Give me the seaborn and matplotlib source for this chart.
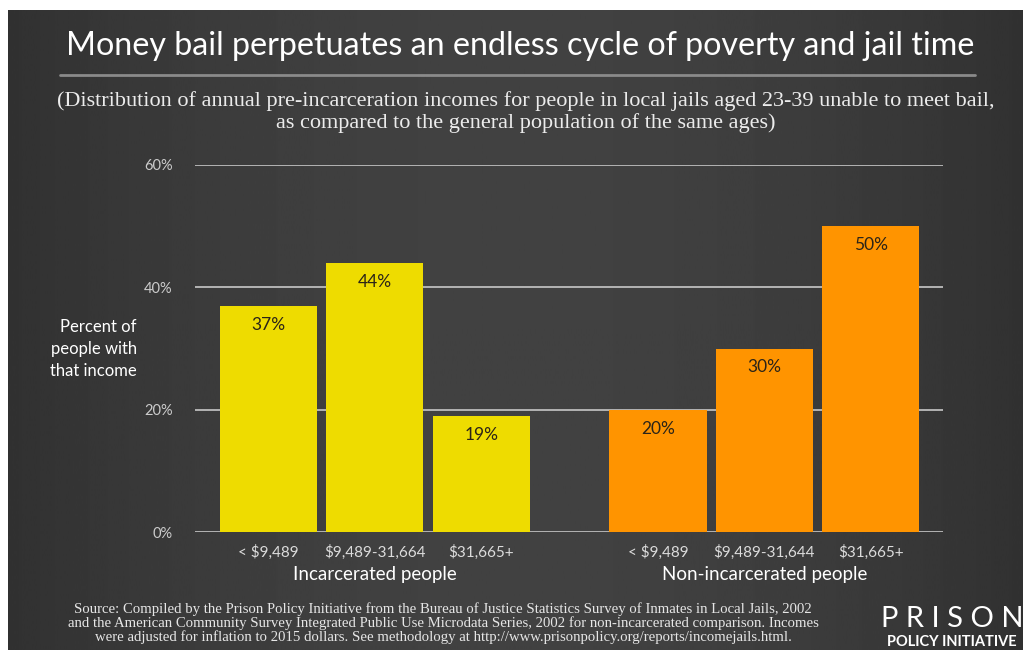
import numpy as np
import pandas as pd
import matplotlib
matplotlib.use("Agg")
import matplotlib.pyplot as plt
import seaborn as sns

# data
groups = ["Incarcerated people", "Non-incarcerated people"]
incarcerated_bins = ["< $9,489", "$9,489-31,664", "$31,665+"]
nonincarcerated_bins = ["< $9,489", "$9,489-31,644", "$31,665+"]
incarcerated_pct = [37, 44, 19]
nonincarcerated_pct = [20, 30, 50]
y_ticks = [0, 20, 40, 60]

yellow = "#EEDC00"
orange = "#FF9400"

group_gap = 0.66  # extra space between the two groups, in bar slots

rows = []
for g, (bins, vals) in enumerate([(incarcerated_bins, incarcerated_pct),
                                   (nonincarcerated_bins, nonincarcerated_pct)]):
    for i, (b, v) in enumerate(zip(bins, vals)):
        rows.append({"group": groups[g], "bin": b, "pct": v,
                     "pos": g * (len(bins) + group_gap) + i})
df = pd.DataFrame(rows)

sns.set_theme(style="white")
plt.rcParams["font.family"] = ["Lato", "DejaVu Sans"]
serif = ["Liberation Serif", "DejaVu Serif"]

fig = plt.figure(figsize=(10.23, 6.5), dpi=100, facecolor="white")

# dark backdrop with a soft horizontal gradient, white margin top/left
bg_ax = fig.add_axes([8 / 1023, 0, 1 - 8 / 1023, 640 / 650])
grad = np.linspace(-1, 1, 400)
grad = 1 - 0.25 * grad ** 2
bg_ax.imshow(grad[None, :], aspect="auto", cmap="gray", vmin=0, vmax=3.9,
             extent=[0, 1, 0, 1])
bg_ax.set_axis_off()

ax = fig.add_axes([195 / 1023, 118 / 650, 748 / 1023, 367 / 650])
ax.set_facecolor("none")

for yt in y_ticks:
    ax.axhline(yt, color="#bdbdbd", lw=1.3, zorder=0)

sns.barplot(data=df, x="pos", y="pct", hue="group", native_scale=True,
            palette=[yellow, orange], saturation=1, width=0.915, dodge=False,
            linewidth=0, legend=False, ax=ax, zorder=2)

ax.set_xlim(-0.69, df["pos"].max() + 0.68)
ax.set_ylim(0, 60)
ax.set_yticks(y_ticks)
ax.set_yticklabels([f"{t}%" for t in y_ticks], color="#cccccc", fontsize=10.5)
ax.tick_params(axis="y", length=0, pad=16)
ax.set_xticks(df["pos"])
ax.set_xticklabels(df["bin"], color="#dcdcdc", fontsize=11)
ax.tick_params(axis="x", length=0, pad=9)
ax.set_xlabel("")
ax.set_ylabel("")
for s in ax.spines.values():
    s.set_visible(False)

for _, r in df.iterrows():
    ax.text(r["pos"], r["pct"] - 3.1, f"{r['pct']}%", ha="center", va="center",
            fontsize=12.5, color="#2b2418", zorder=3)

# group labels under the ticks
for g in groups:
    center = df.loc[df["group"] == g, "pos"].mean()
    ax.text(center, -7.0, g, ha="center", va="center", fontsize=13.5,
            color="white")

fig.text(137 / 1023, 1 - 349 / 650, "Percent of\npeople with\nthat income",
         ha="right", va="center", fontsize=12, color="white", linespacing=1.45)

# title block
fig.text(520 / 1023, 1 - 46 / 650,
         "Money bail perpetuates an endless cycle of poverty and jail time",
         ha="center", va="center", fontsize=23.2, color="white")
fig.add_artist(plt.Line2D([60 / 1023, 975 / 1023], [1 - 75 / 650, 1 - 75 / 650],
                          color="#8a8a8a", lw=2))
fig.text(526 / 1023, 1 - 112 / 650,
         "(Distribution of annual pre-incarceration incomes for people in local jails aged 23-39 unable to meet bail,\n"
         "as compared to the general population of the same ages)",
         ha="center", va="center", fontsize=16, color="#ececec",
         family=serif, linespacing=1.2)

# source note
fig.text(443 / 1023, 1 - 623 / 650,
         "Source: Compiled by the Prison Policy Initiative from the Bureau of Justice Statistics Survey of Inmates in Local Jails, 2002\n"
         "and the American Community Survey Integrated Public Use Microdata Series, 2002 for non-incarcerated comparison. Incomes\n"
         "were adjusted for inflation to 2015 dollars. See methodology at http://www.prisonpolicy.org/reports/incomejails.html.",
         ha="center", va="center", fontsize=10.6, color="#e6e6e6",
         family=serif, linespacing=1.0)

# logo
fig.text(952 / 1023, 1 - 619 / 650, "P R I S O N", ha="center", va="center",
         fontsize=21, color="white")
fig.text(952 / 1023, 1 - 642 / 650, "POLICY INITIATIVE", ha="center", va="center",
         fontsize=10.5, color="white", weight="bold")

fig.savefig("out.png", dpi=100, facecolor=fig.get_facecolor())
